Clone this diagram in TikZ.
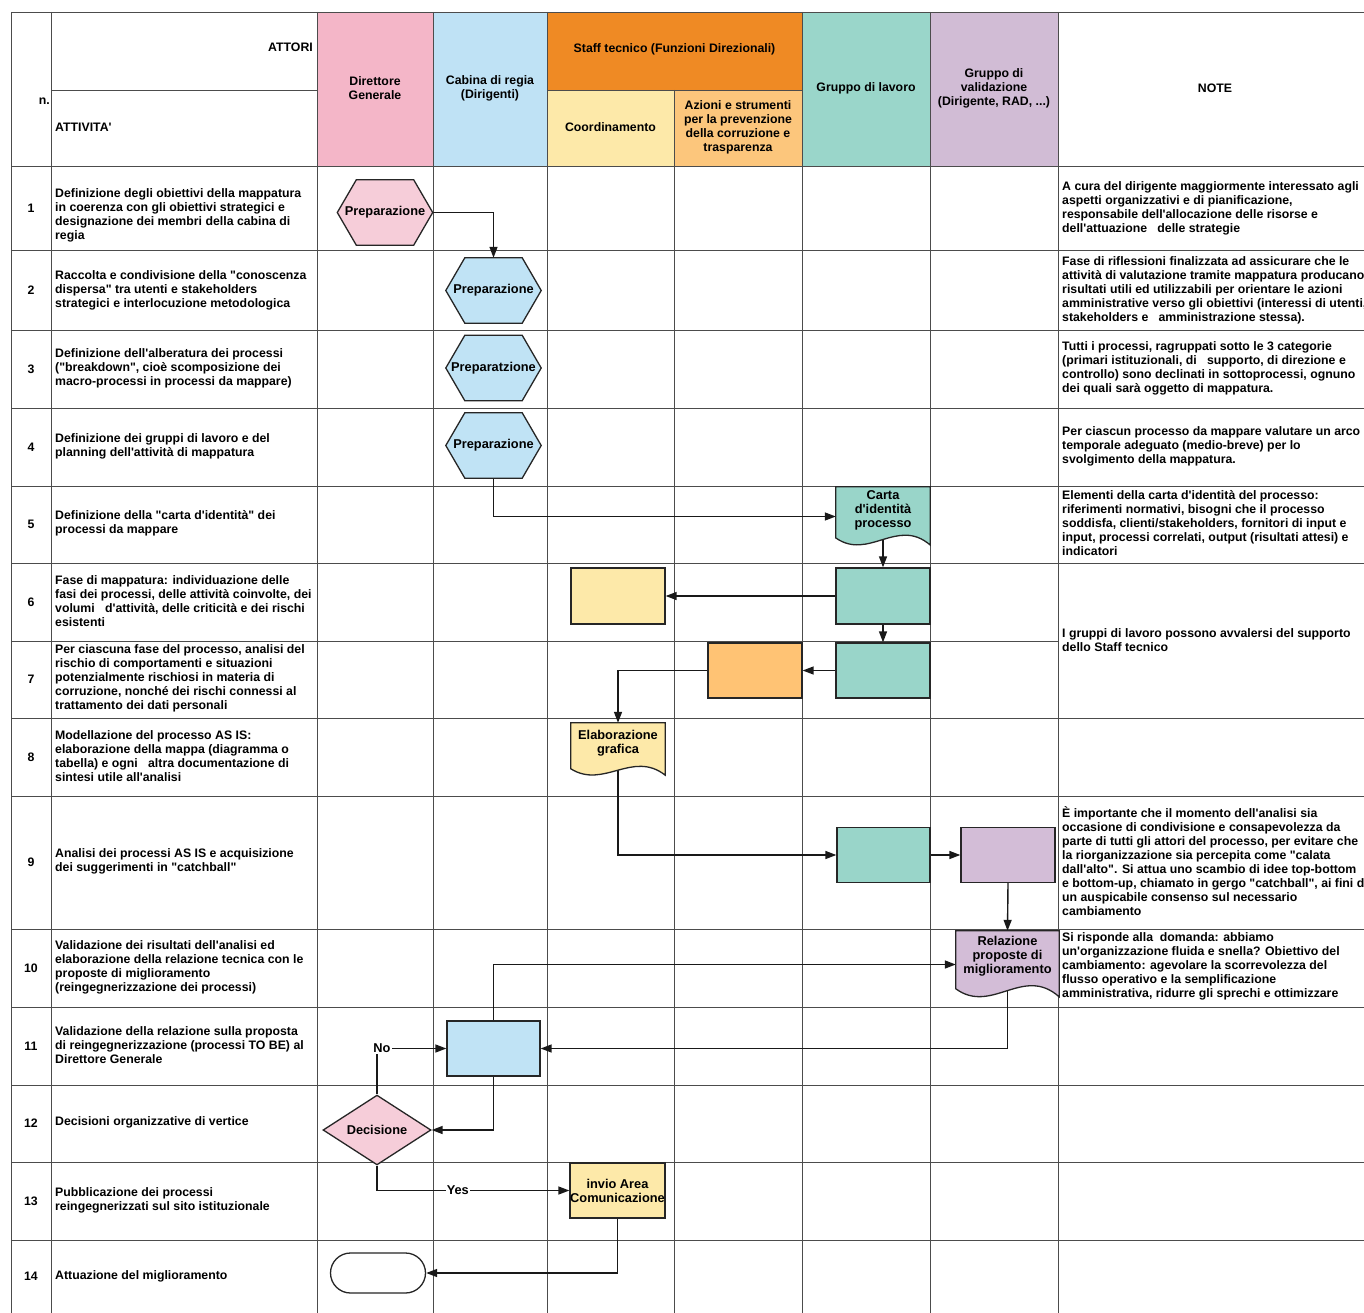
\documentclass[tikz,border=0pt]{standalone}
\usepackage{fontspec}
\setmainfont{Liberation Sans}[Ligatures=TeXOff]
\usetikzlibrary{arrows.meta,shapes.geometric,shapes.misc,calc}
\pgfdeclarelayer{gridl}\pgfdeclarelayer{connl}\pgfdeclarelayer{shapel}
\pgfsetlayers{gridl,connl,shapel,main}
\definecolor{hPink}{HTML}{F4B6C8}
\definecolor{hBlue}{HTML}{BFE2F5}
\definecolor{hOrange}{HTML}{EF8A24}
\definecolor{hYellow}{HTML}{FDE9A9}
\definecolor{hLtOrange}{HTML}{FCC67C}
\definecolor{hTeal}{HTML}{9AD6CA}
\definecolor{hLav}{HTML}{D1BCD5}
\definecolor{sPink}{HTML}{F6CDD9}
\definecolor{sBlue}{HTML}{C0E3F5}
\definecolor{sYellow}{HTML}{FDE9A9}
\definecolor{sOrange}{HTML}{FFC374}
\definecolor{sTeal}{HTML}{99D5C9}
\definecolor{sLav}{HTML}{D3BDD7}
\newcommand\bodyf{\fontsize{12.3pt}{14pt}\selectfont\bfseries}
\newcommand\lblf{\fontsize{12.8pt}{14pt}\selectfont\bfseries}
\tikzset{
  gridline/.style={draw=black!70, line width=0.9pt},
  num/.style={font=\bodyf, inner sep=0pt},
  act/.style={font=\bodyf, anchor=west, align=left, inner sep=0pt},
  note/.style={font=\bodyf, anchor=west, align=left, inner sep=0pt},
  hdr/.style={font=\bodyf, align=center, inner sep=0pt},
  shapeline/.style={draw=black!85, line width=1.3pt},
  procbox/.style={shapeline, rectangle, inner sep=1pt, font=\lblf, align=center},
  hexlbl/.style={rectangle, minimum width=95pt, minimum height=65pt, inner sep=0pt, font=\lblf},
  docbody/.style={rectangle, inner sep=0pt},
  doclbl/.style={font=\lblf, align=center, inner sep=0pt},
  conn/.style={draw=black!90, line width=1.4pt, -{Triangle[length=11pt,width=8pt]}},
  flowlbl/.style={font=\lblf, fill=white, inner sep=1pt},
}
\newcommand\hexshape[5]{%
  \node[hexlbl] (#1) at (#2,#3) {#5};
  \begin{pgfonlayer}{shapel}
  \path[shapeline, fill=#4] (#1.west) -- ([xshift=19pt]#1.north west) -- ([xshift=-19pt]#1.north east) -- (#1.east) -- ([xshift=-19pt]#1.south east) -- ([xshift=19pt]#1.south west) -- cycle;
  \end{pgfonlayer}}
\newcommand\docshape[8]{%
  \node[docbody, minimum width=#4pt, minimum height=#5pt] (#1) at (#2,#3) {};
  \node[doclbl] (#1-t) at ([yshift=#8pt]#1.center) {#7};
  \begin{pgfonlayer}{shapel}
  \path[shapeline, fill=#6] (#1.north west) -- (#1.north east) -- ([yshift={0.02*#5pt}]#1.south east)
    .. controls ([xshift={-0.35*#4pt},yshift={0.5*#5pt}]#1.south east) and ([xshift={0.35*#4pt},yshift={-0.25*#5pt}]#1.south west)
    .. ([yshift={0.14*#5pt}]#1.south west) -- cycle;
  \end{pgfonlayer}}
\begin{document}
\begin{tikzpicture}[x=1pt,y=-1pt]
\useasboundingbox (0,0) rectangle (1364,1313);
\clip (0,0) rectangle (1364,1313);
\begin{pgfonlayer}{gridl}
\fill[white] (0,0) rectangle (1364,1313);
\fill[hPink] (317,12) rectangle (433,166);
\fill[hBlue] (433,12) rectangle (547,166);
\fill[hOrange] (547,12) rectangle (802,90);
\fill[hYellow] (547,90) rectangle (674,166);
\fill[hLtOrange] (674,90) rectangle (802,166);
\fill[hTeal] (802,12) rectangle (930,166);
\fill[hLav] (930,12) rectangle (1058,166);
\foreach \xx in {11,51,317,433,547,802,930,1058} \draw[gridline] (\xx,12) -- (\xx,1313);
\draw[gridline] (674,90) -- (674,1313);
\foreach \yy in {12,166,250,330,408,486,563,718,796,929,1007,1085,1162,1240} \draw[gridline] (11,\yy) -- (1364,\yy);
\draw[gridline] (11,641) -- (1058,641);
\draw[gridline] (51,90) -- (317,90);
\draw[gridline] (547,90) -- (802,90);
\end{pgfonlayer}
% header
\node[hdr, anchor=east] (hAttori) at (313,47) {ATTORI};
\node[hdr, anchor=west] (hAttivita) at (55,127) {ATTIVITA'};
\node[hdr, anchor=east] (hN) at (50,101) {n.};
\node[hdr] (hDG) at (375,88) {Direttore\\Generale};
\node[hdr] (hCab) at (490,88) {Cabina di regia\\(Dirigenti)};
\node[hdr] (hStaff) at (674.5,49) {Staff tecnico (Funzioni Direzionali)};
\node[hdr] (hCoord) at (610.5,127) {Coordinamento};
\node[hdr] (hAz) at (738,127) {Azioni e strumenti\\per la prevenzione\\della corruzione e\\trasparenza};
\node[hdr] (hGL) at (866,88) {Gruppo di lavoro};
\node[hdr] (hGV) at (994,88) {Gruppo di\\validazione\\(Dirigente, RAD, ...)};
\node[hdr] (hNote) at (1215,88) {NOTE};
% numbers
\foreach \nn/\yy in {1/208,2/290,3/369,4/447,5/524.5,6/602,7/679.5,8/757,9/862.5,10/968,11/1046,12/1123.5,13/1201,14/1276.5}
  \node[num] (n\nn) at (31,\yy) {\nn};
% activities
\node[act] (a1) at (55,215) {Definizione degli obiettivi della mappatura\\in coerenza con gli obiettivi strategici e\\designazione dei membri della cabina di\\regia};
\node[act] (a2) at (55,290) {Raccolta e condivisione della "conoscenza\\dispersa" tra utenti e stakeholders\\strategici e interlocuzione metodologica};
\node[act] (a3) at (55,368) {Definizione dell'alberatura dei processi\\("breakdown", cioè scomposizione dei\\macro-processi in processi da mappare)};
\node[act] (a4) at (55,446) {Definizione dei gruppi di lavoro e del\\planning dell'attività di mappatura};
\node[act] (a5) at (55,523) {Definizione della "carta d'identità" dei\\processi da mappare};
\node[act] (a6) at (55,601) {Fase di mappatura: individuazione delle\\fasi dei processi, delle attività coinvolte, dei\\volumi\ \ \ d'attività, delle criticità e dei rischi\\esistenti};
\node[act] (a7) at (55,678.5) {Per ciascuna fase del processo, analisi del\\rischio di comportamenti e situazioni\\potenzialmente rischiosi in materia di\\corruzione, nonché dei rischi connessi al\\trattamento dei dati personali};
\node[act] (a8) at (55,756) {Modellazione del processo AS IS:\\elaborazione della mappa (diagramma o\\tabella) e ogni\ \ \ altra documentazione di\\sintesi utile all'analisi};
\node[act] (a9) at (55,861) {Analisi dei processi AS IS e acquisizione\\dei suggerimenti in "catchball"};
\node[act] (a10) at (55,967) {Validazione dei risultati dell'analisi ed\\elaborazione della relazione tecnica con le\\proposte di miglioramento\\(reingegnerizzazione dei processi)};
\node[act] (a11) at (55,1045) {Validazione della relazione sulla proposta\\di reingegnerizzazione (processi TO BE) al\\Direttore Generale};
\node[act] (a12) at (55,1122.5) {Decisioni organizzative di vertice};
\node[act] (a13) at (55,1200) {Pubblicazione dei processi\\reingegnerizzati sul sito istituzionale};
\node[act] (a14) at (55,1276.5) {Attuazione del miglioramento};
% notes
\node[note] (t1) at (1062,208) {A cura del dirigente maggiormente interessato agli\\aspetti organizzativi e di pianificazione,\\responsabile dell'allocazione delle risorse e\\dell'attuazione\ \ \ delle strategie};
\node[note] (t2) at (1062,290) {Fase di riflessioni finalizzata ad assicurare che le\\attività di valutazione tramite mappatura producano\\risultati utili ed utilizzabili per orientare le azioni\\amministrative verso gli obiettivi (interessi di utenti,\\stakeholders e\ \ \ amministrazione stessa).};
\node[note] (t3) at (1062,368) {Tutti i processi, ragruppati sotto le 3 categorie\\(primari istituzionali, di\ \ \ supporto, di direzione e\\controllo) sono declinati in sottoprocessi, ognuno\\dei quali sarà oggetto di mappatura.};
\node[note] (t4) at (1062,446) {Per ciascun processo da mappare valutare un arco\\temporale adeguato (medio-breve) per lo\\svolgimento della mappatura.};
\node[note] (t5) at (1062,523) {Elementi della carta d'identità del processo:\\riferimenti normativi, bisogni che il processo\\soddisfa, clienti/stakeholders, fornitori di input e\\input, processi correlati, output (risultati attesi) e\\indicatori};
\node[note] (t6) at (1062,640) {I gruppi di lavoro possono avvalersi del supporto\\dello Staff tecnico};
\node[note] (t9) at (1062,861) {È importante che il momento dell'analisi sia\\occasione di condivisione e consapevolezza da\\parte di tutti gli attori del processo, per evitare che\\la riorganizzazione sia percepita come "calata\\dall'alto". Si attua uno scambio di idee top-bottom\\e bottom-up, chiamato in gergo "catchball", ai fini di\\un auspicabile consenso sul necessario\\cambiamento};
\node[note] (t10) at (1062,966) {Si risponde alla\ \ domanda: abbiamo\\un'organizzazione fluida e snella? Obiettivo del\\cambiamento: agevolare la scorrevolezza del\\flusso operativo e la semplificazione\\amministrativa, ridurre gli sprechi e ottimizzare};
% shapes
\hexshape{hexP}{385}{212.5}{sPink}{Preparazione}
\hexshape{hex2}{493.5}{290.5}{sBlue}{Preparazione}
\hexshape{hex3}{493.5}{368}{sBlue}{Preparatzione}
\hexshape{hex4}{493.5}{445.5}{sBlue}{Preparazione}
\docshape{carta}{883}{516.5}{94}{59}{sTeal}{Carta\\d'identità\\processo}{6.5}
\node[procbox, fill=sTeal, minimum width=94pt, minimum height=56pt] (teal6) at (883,596) {};
\node[procbox, fill=sYellow, minimum width=94pt, minimum height=56pt] (yel6) at (618,596) {};
\node[procbox, fill=sTeal, minimum width=94pt, minimum height=55pt] (teal7) at (883,670.5) {};
\node[procbox, fill=sOrange, minimum width=94pt, minimum height=55pt] (ora7) at (755,670.5) {};
\docshape{elab}{618}{749.5}{94}{53}{sYellow}{Elaborazione\\grafica}{6.5}
\node[procbox, fill=sTeal, minimum width=93pt, minimum height=55pt] (teal9) at (883.5,855) {};
\node[procbox, fill=sLav, minimum width=94pt, minimum height=55pt] (lav9) at (1008,855) {};
\docshape{rel}{1007.5}{964.5}{103}{67}{sLav}{Relazione\\proposte di\\miglioramento}{8.5}
\node[procbox, fill=sBlue, minimum width=93pt, minimum height=55pt] (blue11) at (493.5,1048.5) {};
\node[shapeline, diamond, fill=sPink, minimum width=108pt, minimum height=64pt, inner sep=0pt, font=\lblf] (dec) at (377,1130) {Decisione};
\node[procbox, fill=sYellow, minimum width=95pt, minimum height=55pt, inner sep=0pt] (inv13) at (617.5,1190.5) {invio Area\\Comunicazione};
\node[shapeline, rounded rectangle, fill=white, minimum width=95pt, minimum height=40pt, inner sep=0pt] (term) at (378,1273) {};
% connectors
\begin{pgfonlayer}{connl}
\draw[conn] (hexP.east) -| (hex2.north);
\draw[conn] (hex4.south) |- (carta.west);
\draw[conn] (carta.center) -- (teal6.north);
\draw[conn] (teal6.west) -- (yel6.east);
\draw[conn] (teal6.south) -- (teal7.north);
\draw[conn] (teal7.west) -- (ora7.east);
\draw[conn] (ora7.west) -| (elab.north);
\draw[conn] (elab.center) |- (teal9.west);
\draw[conn] (teal9.east) -- (lav9.west);
\draw[conn] (lav9.south) -- (rel.north);
\draw[conn] (rel.center) |- (blue11.east);
\draw[conn] (blue11.north) |- (rel.west);
\draw[conn] (blue11.south) |- (dec.east);
\draw[conn] (dec.north) |- node[flowlbl, pos=0.5, xshift=5pt] (lNo) {No} (blue11.west);
\draw[conn] (dec.south) |- node[flowlbl, pos=0.71] (lYes) {Yes} (inv13.west);
\draw[conn] (inv13.south) |- (term.east);
\end{pgfonlayer}
\end{tikzpicture}
\end{document}
